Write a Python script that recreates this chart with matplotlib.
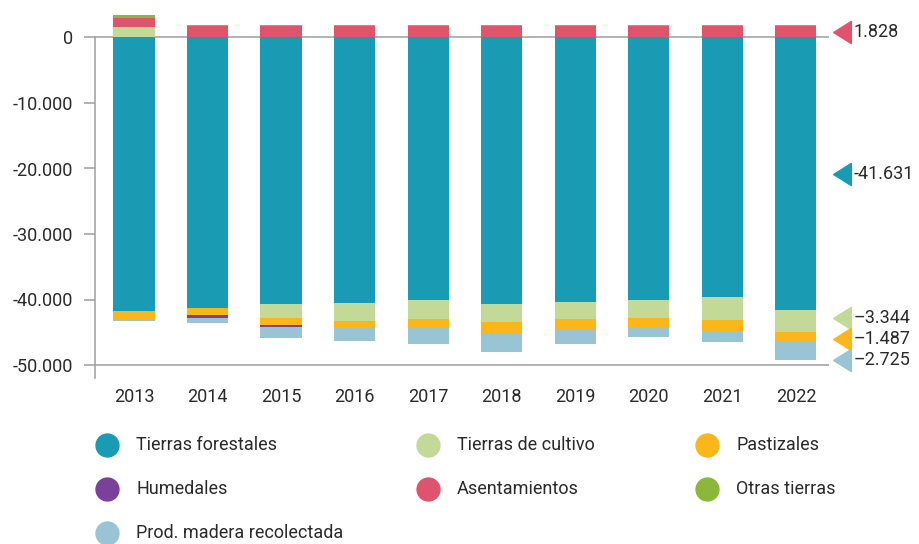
import numpy as np
import matplotlib
matplotlib.use("Agg")
import matplotlib.pyplot as plt
from matplotlib.lines import Line2D
from matplotlib.transforms import ScaledTranslation

plt.rcParams['font.family'] = ['Roboto', 'DejaVu Sans']

# data
years = ["2013", "2014", "2015", "2016", "2017", "2018", "2019", "2020", "2021", "2022"]
series_names = ["Tierras forestales", "Tierras de cultivo", "Pastizales", "Humedales",
                "Asentamientos", "Otras tierras", "Prod. madera recolectada"]
forestales = [-41700, -41250, -40750, -40590, -40030, -40750, -40380, -40030, -39620, -41631]
cultivo = [1600, 0, -2130, -2640, -3000, -2740, -2640, -2790, -3450, -3344]
pastizales = [-1400, -1170, -960, -1170, -1370, -1620, -1570, -1520, -1680, -1487]
humedales = [0, -350, -400, 0, 0, 0, 0, 0, 0, 0]
asentamientos = [1430, 1830, 1830, 1830, 1830, 1830, 1830, 1830, 1830, 1828]
otras = [350, 100, 100, 100, 100, 100, 100, 100, 100, 100]
madera = [-200, -860, -1670, -1880, -2380, -2840, -2130, -1370, -1670, -2725]
yticks = [0, -10000, -20000, -30000, -40000, -50000]

colors = ["#1a9bb4", "#c2d998", "#fbb61a", "#7b3f9c", "#df536d", "#8bb83a", "#98c4d4"]
values = [forestales, cultivo, pastizales, humedales, asentamientos, otras, madera]

txt_col = "#2a2a2a"
line_col = "#9e9e9e"
fs = 13

fig = plt.figure(figsize=(9.19, 5.44), dpi=100)
W, H = 919, 544
# axes: y-axis at x=95px, right end 829px; value 0 at 37.5px, 6.55px per 1000
ax = fig.add_axes([95 / W, 1 - 378.1 / H, (829 - 95) / W, (378.1 - 11.3) / H])

x = np.arange(len(years))
pos_bottom = np.zeros(len(years))
neg_bottom = np.zeros(len(years))
for name, vals, c in zip(series_names, values, colors):
    v = np.array(vals, dtype=float)
    bottom = np.where(v >= 0, pos_bottom, neg_bottom)
    ax.bar(x, v, 0.56, bottom=bottom, color=c, linewidth=0, zorder=3)
    pos_bottom += np.where(v >= 0, v, 0)
    neg_bottom += np.where(v < 0, v, 0)

ax.set_xlim(-0.53, 9.45)
ax.set_ylim(-52000, 4000)

for s in ["top", "right", "bottom"]:
    ax.spines[s].set_visible(False)
ax.spines["left"].set_bounds(-52000, 0)
ax.spines["left"].set_color(line_col)
ax.spines["left"].set_linewidth(1.1)
ax.axhline(0, color=line_col, lw=1.1, zorder=1)
ax.axhline(-50000, color=line_col, lw=1.1, zorder=1)

ax.set_yticks(yticks)
ax.set_yticklabels(["{:,}".format(t).replace(",", ".") for t in yticks])
ax.tick_params(axis="y", length=8, width=1.1, color=line_col, pad=8,
               labelsize=fs, labelcolor=txt_col)
ax.set_xticks(x)
ax.set_xticklabels(years)
ax.tick_params(axis="x", length=0, pad=7, labelsize=fs, labelcolor=txt_col)

# end labels for 2022
tri = [(-0.8, 0), (0.8, 1), (0.8, -1), (-0.8, 0)]
last = len(years) - 1
labelled = [(4, 0), (0, 0), (1, -3), (2, 2), (6, 9)]  # (series index, pixel nudge down)
for idx, nudge in labelled:
    v = values[idx][last]
    if v >= 0:
        base = sum(values[k][last] for k in range(idx) if values[k][last] >= 0)
    else:
        base = sum(values[k][last] for k in range(idx) if values[k][last] < 0)
    mid = base + v / 2
    tr = ax.transData + ScaledTranslation(0, -nudge / 100, fig.dpi_scale_trans)
    ax.plot([9.63], [mid], marker=tri, ms=16, color=colors[idx], linestyle="none",
            clip_on=False, transform=tr)
    lab = "{:,}".format(v).replace(",", ".")
    if idx in (1, 2, 6):
        lab = lab.replace("-", "\u2013")
    ax.text(9.78, mid, lab, transform=tr, ha="left", va="center", fontsize=fs,
            color=txt_col, clip_on=False)

# legend laid out row by row
leg_cols = [107, 428, 707]
leg_rows = [445, 489, 533]
for j, (name, c) in enumerate(zip(series_names, colors)):
    cx = leg_cols[j % 3]
    cy = leg_rows[j // 3]
    fig.add_artist(Line2D([cx / W], [1 - cy / H], marker="o", ms=16.5, color=c,
                          linestyle="none", transform=fig.transFigure))
    fig.text((cx + 29) / W, 1 - cy / H, name, ha="left", va="center",
             fontsize=fs, color=txt_col)

fig.savefig("out.png", dpi=100)
